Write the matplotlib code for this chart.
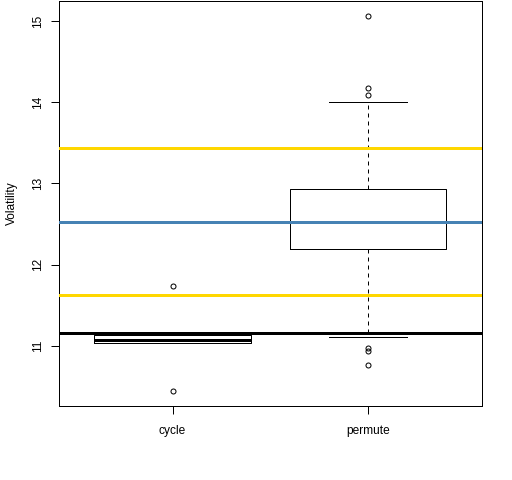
import matplotlib
matplotlib.use("Agg")
import matplotlib.pyplot as plt

plt.rcParams['font.family'] = ['Liberation Sans', 'DejaVu Sans']

# box statistics
groups = ['cycle', 'permute']
q1 = [11.037, 12.195]
medians = [11.07, 12.52]
q3 = [11.135, 12.93]
whis_lo = [11.037, 11.107]
whis_hi = [11.135, 14.0]
fliers = [[11.739, 10.446], [15.06, 14.17, 14.09, 10.98, 10.94, 10.77]]

# reference levels
gold_levels = [13.435, 11.624]
blue_level = 12.523
black_level = 11.156

stats = []
for i, name in enumerate(groups):
    stats.append(dict(label=name, q1=q1[i], med=medians[i], q3=q3[i],
                      whislo=whis_lo[i], whishi=whis_hi[i], fliers=fliers[i]))

px = 0.72  # one pixel in points at dpi 100
fig = plt.figure(figsize=(5.12, 4.8), dpi=100)
ax = fig.add_axes([59 / 512, 74 / 480, 422.7 / 512, 405 / 480])

ax.bxp(stats, positions=[1, 2], widths=0.8, patch_artist=False,
       boxprops=dict(color='black', linewidth=px),
       medianprops=dict(color='black', linewidth=3 * px, solid_capstyle='butt'),
       whiskerprops=dict(color='black', linewidth=px, linestyle=(0, (4, 4))),
       capprops=dict(color='black', linewidth=px),
       capwidths=0.4,
       flierprops=dict(marker='o', markerfacecolor='none', markeredgecolor='black',
                       markersize=3.6, markeredgewidth=px))

for lvl in gold_levels:
    ax.axhline(lvl, color='#FFD700', linewidth=3 * px, zorder=5)
ax.axhline(blue_level, color='#4682B4', linewidth=3 * px, zorder=5)
ax.axhline(black_level, color='black', linewidth=3 * px, zorder=5)

ax.set_xlim(0.42, 2.58)
ax.set_ylim(10.261, 15.245)
ax.set_yticks([11, 12, 13, 14, 15])
ax.set_xticks([1, 2])
ax.set_xticklabels(groups)
for lab in ax.get_yticklabels():
    lab.set_rotation(90)
    lab.set_verticalalignment('center')
ax.tick_params(axis='both', length=6, width=px, labelsize=8.6, pad=8)
ax.tick_params(axis='y', pad=5)
for s in ax.spines.values():
    s.set_linewidth(px)
ax.set_ylabel('Volatility', fontsize=8.6, labelpad=10)

fig.savefig('out.png', dpi=100)
